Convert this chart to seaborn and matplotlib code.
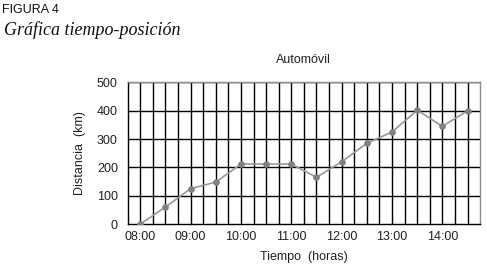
import numpy as np
import pandas as pd
import matplotlib
matplotlib.use("Agg")
import matplotlib.pyplot as plt
import seaborn as sns

# data (time in hours, distance in km)
horas = [8.0, 8.5, 9.0, 9.5, 10.0, 10.5, 11.0, 11.5, 12.0, 12.5, 13.0, 13.5, 14.0, 14.5]
distancia = [0, 60, 125, 148, 212, 212, 212, 165, 220, 285, 325, 402, 345, 400]
etiquetas_x = ["08:00", "09:00", "10:00", "11:00", "12:00", "13:00", "14:00"]
pos_etiquetas = [8, 9, 10, 11, 12, 13, 14]

df = pd.DataFrame({"hora": horas, "km": distancia})

sns.set_style("white")
plt.rcParams["font.family"] = ["Liberation Sans", "DejaVu Sans"]

fig = plt.figure(figsize=(4.87, 2.71), dpi=100)
ax = fig.add_axes([0.262, 0.173, 0.724, 0.523])

sns.lineplot(data=df, x="hora", y="km", ax=ax, color="#999999", lw=1.2,
             marker="o", markersize=4, markerfacecolor="#808080",
             markeredgecolor="#808080", zorder=3)

ax.set_xlim(7.75, 14.75)
ax.set_ylim(0, 500)

# grid: horizontal every 100 km, vertical every 15 min
ax.set_yticks(np.arange(0, 501, 100))
for y in range(100, 501, 100):
    ax.axhline(y, color="black", lw=1.0, zorder=1)
for x in np.arange(8.0, 14.6, 0.25):
    ax.axvline(x, color="black", lw=1.0, zorder=1)

# tick marks between points, labels on the hour
ax.set_xticks(np.arange(7.75, 14.76, 0.5))
ax.set_xticklabels([])
ax.set_xticks(pos_etiquetas, minor=True)
ax.set_xticklabels(etiquetas_x, minor=True)
ax.tick_params(axis="x", which="major", direction="out", length=4, width=1, color="black")
ax.tick_params(axis="x", which="minor", length=0, pad=5, labelsize=9, labelcolor="#222222")
ax.tick_params(axis="y", direction="out", length=4, width=1, color="black",
               labelsize=9, labelcolor="#222222", pad=3)

for side in ["left", "bottom"]:
    ax.spines[side].set_color("black")
    ax.spines[side].set_linewidth(1.0)
for side in ["top", "right"]:
    ax.spines[side].set_color("#8c8c8c")
    ax.spines[side].set_linewidth(1.0)

ax.set_xlabel("Tiempo  (horas)", fontsize=9, color="#222222", labelpad=6)
ax.set_ylabel("Distancia  (km)", fontsize=9, color="#222222", labelpad=8)
ax.set_title("Automóvil", fontsize=9, color="#222222", pad=14)

fig.text(0.004, 0.952, "FIGURA 4", fontsize=9, color="#111111",
         family="Liberation Sans")
fig.text(0.008, 0.872, "Gráfica tiempo-posición", fontsize=13, style="italic",
         family="Liberation Serif", color="#111111")

fig.savefig("out.png", dpi=100)
